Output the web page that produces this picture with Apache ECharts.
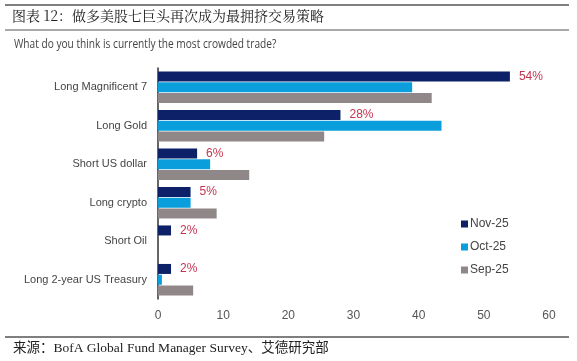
<!DOCTYPE html>
<html><head><meta charset="utf-8">
<script src="https://cdn.jsdelivr.net/npm/echarts@6/dist/echarts.min.js"></script>
<style>html,body{margin:0;padding:0;background:#fff}#c{width:577px;height:361px}</style>
</head><body><div id="c"></div>
<script>
const categories = ['Long Magnificent 7','Long Gold','Short US dollar','Long crypto','Short Oil','Long 2-year US Treasury'];
const nov25 = [54, 28, 6, 5, 2, 2];
const oct25 = [39, 43.5, 8, 5, 0, 0.6];
const sep25 = [42, 25.5, 14, 9, 0, 5.4];
const novLabels = ['54%','28%','6%','5%','2%','2%'];
const xTicks = [0,10,20,30,40,50,60];

const font = '"Liberation Sans",Arial,sans-serif';
const chart = echarts.init(document.getElementById('c'), null, {renderer:'canvas'});
chart.setOption({
  animation:false,
  graphic:[
    {type:'line', shape:{x1:5,y1:5,x2:569,y2:5}, style:{stroke:'#555',lineWidth:1.5}},
    {type:'text', left:12, top:9, style:{text:'图表 12：做多美股七巨头再次成为最拥挤交易策略', font:'14px "Noto Serif CJK SC","Noto Sans CJK SC",serif', fill:'#222'}},
    {type:'line', shape:{x1:5,y1:30,x2:569,y2:30}, style:{stroke:'#555',lineWidth:1}},
    {type:'text', x:14, y:38, scaleX:0.78, style:{text:'What do you think is currently the most crowded trade?', font:'13px "Open Sans",sans-serif', fill:'#444'}},
    {type:'line', shape:{x1:5,y1:337,x2:569,y2:337}, style:{stroke:'#555',lineWidth:1.5}},
    {type:'text', left:13, top:342, style:{text:'来源：BofA Global Fund Manager Survey、艾德研究部', font:'13.5px "Liberation Serif","Noto Sans CJK SC",serif', fill:'#222'}}
  ],
  grid:{left:158, right:28, top:68, bottom:62, containLabel:false},
  legend:{
    orient:'vertical', left:456, top:213, itemWidth:7, itemHeight:7, itemGap:11,
    icon:'rect',
    textStyle:{fontFamily:font, fontSize:12, color:'#444', padding:[0,0,0,-3]},
    data:['Nov-25','Oct-25','Sep-25']
  },
  xAxis:{
    type:'value', min:0, max:60, interval:10,
    axisLine:{show:false}, axisTick:{show:false}, splitLine:{show:false},
    axisLabel:{fontFamily:font, fontSize:12, color:'#555', margin:11,
      formatter:v=>xTicks.includes(v)?String(v):''}
  },
  yAxis:{
    type:'category', data:categories, inverse:true,
    axisLine:{show:true, lineStyle:{color:'#333', width:1.5}},
    axisTick:{show:false},
    axisLabel:{fontFamily:font, fontSize:11, color:'#444', margin:11}
  },
  series:[
    {name:'Nov-25', type:'bar', data:nov25, barWidth:10, barGap:'8%', barCategoryGap:'16%',
     itemStyle:{color:'#0c2168'},
     label:{show:true, position:'right', distance:9, fontFamily:font, fontSize:12, color:'#c4344f',
       formatter:p=>novLabels[p.dataIndex]}},
    {name:'Oct-25', type:'bar', data:oct25, barWidth:10, barGap:'8%', itemStyle:{color:'#0a9fdc'}},
    {name:'Sep-25', type:'bar', data:sep25, barWidth:10, barGap:'8%', itemStyle:{color:'#8f8788'}}
  ]
});
</script></body></html>
